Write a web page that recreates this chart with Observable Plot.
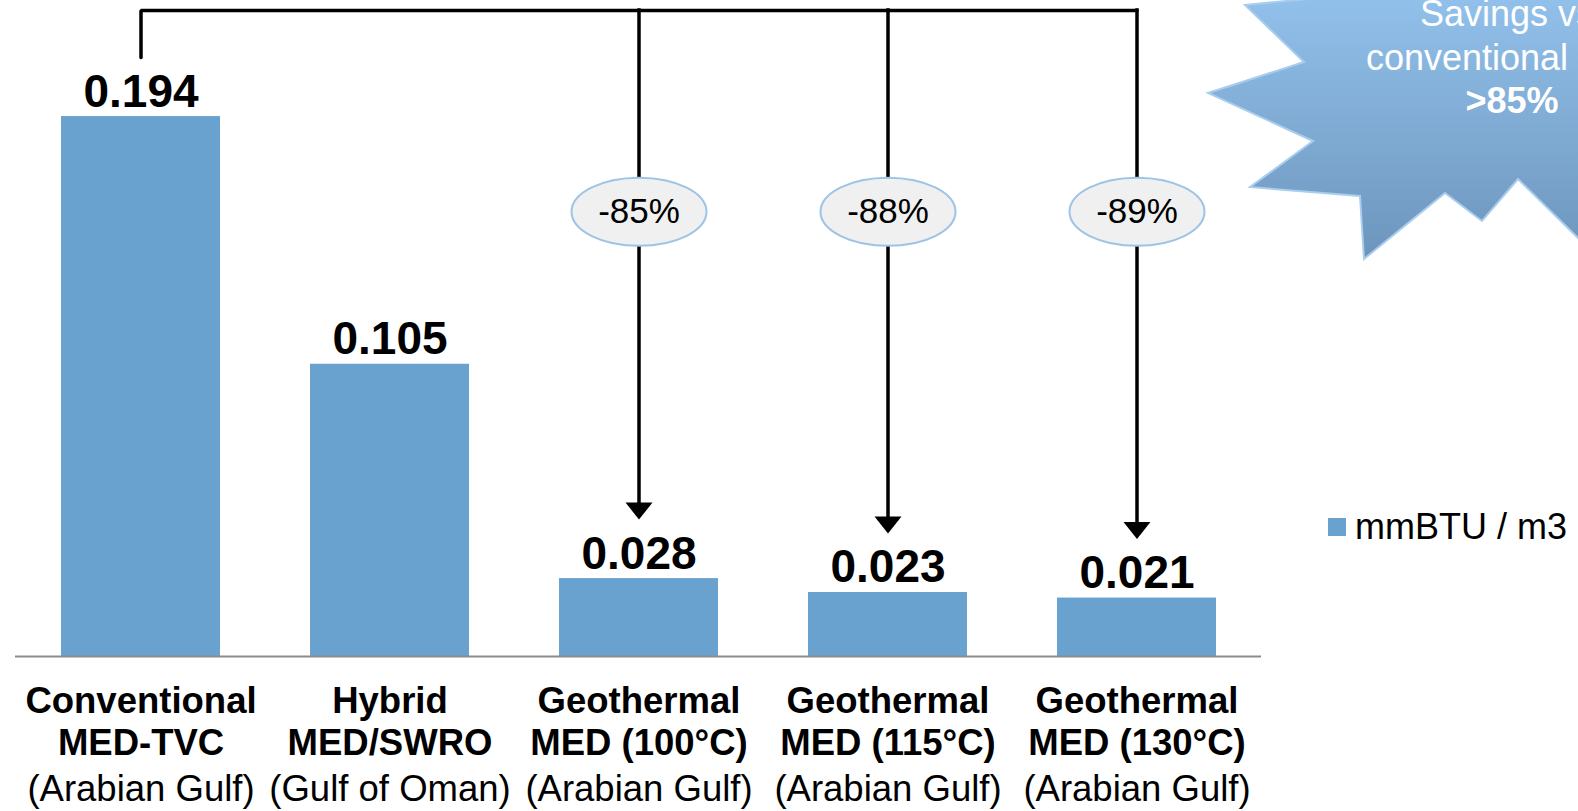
<!DOCTYPE html>
<html>
<head>
<meta charset="utf-8">
<script src="https://cdn.jsdelivr.net/npm/d3@7"></script>
<script src="https://cdn.jsdelivr.net/npm/@observablehq/plot@0.6"></script>
<style>
  html, body { margin: 0; padding: 0; background: #fff; }
  #chart { position: relative; width: 1578px; height: 811px; overflow: hidden; }
  #legend { position: absolute; left: 1328px; top: 506px; width: 400px; white-space: nowrap; }
  #legend div, #legend span { white-space: nowrap; }
  #legend svg { margin-right: 9px !important; }
</style>
</head>
<body>
<div id="chart"><div id="legend"></div></div>
<script>
// Specific thermal energy of each desalination option
const techNames = ["Conventional", "Hybrid", "Geothermal", "Geothermal", "Geothermal"];
const techDetail = ["MED-TVC", "MED/SWRO", "MED (100°C)", "MED (115°C)", "MED (130°C)"];
const regions = ["(Arabian Gulf)", "(Gulf of Oman)", "(Arabian Gulf)", "(Arabian Gulf)", "(Arabian Gulf)"];
const values = [0.194, 0.105, 0.028, 0.023, 0.021];
const seriesName = "mmBTU / m3";

// Savings of the three geothermal plants against the conventional plant
const savings = ["-85%", "-88%", "-89%"];

// Callout text
const calloutLines = ["Savings vs.", "conventional MED", ">85%"];

const FONT = "'Liberation Sans', Arial, Helvetica, sans-serif";
const barFill = "#6aa2cf";

const keys = techNames.map((n, i) => `${n}\n${techDetail[i]}`);
const rows = keys.map((key, i) => ({key, value: values[i], region: regions[i]}));
const savingsRows = savings.map((label, i) => ({key: keys[i + 2], label, value: values[i + 2]}));

// Annotation levels, in mmBTU / m3
const yMax = 0.2357;
const bracketTop = 0.2321;
const bracketStart = 0.2152;
const badgeLevel = 0.1598;
const arrowGap = 0.0212;

// Oval badge symbol (twice as wide as tall)
const ellipse = {
  draw(ctx, size) {
    const r = Math.sqrt(size / Math.PI), rx = r * 1.985, ry = r, k = 0.5523;
    ctx.moveTo(rx, 0);
    ctx.bezierCurveTo(rx, ry * k, rx * k, ry, 0, ry);
    ctx.bezierCurveTo(-rx * k, ry, -rx, ry * k, -rx, 0);
    ctx.bezierCurveTo(-rx, -ry * k, -rx * k, -ry, 0, -ry);
    ctx.bezierCurveTo(rx * k, -ry, rx, -ry * k, rx, 0);
    ctx.closePath();
  }
};
// Filled arrow head, tip at the anchor point
const arrowHead = {
  draw(ctx) {
    ctx.moveTo(-13.5, -17);
    ctx.lineTo(13.5, -17);
    ctx.lineTo(0, 0);
    ctx.closePath();
  }
};

const chart = Plot.plot({
  width: 1578,
  height: 811,
  marginTop: 0,
  marginBottom: 155,
  marginLeft: 15,
  marginRight: 317,
  style: {fontFamily: FONT, background: "#fff", color: "#000", overflow: "hidden"},
  x: {type: "band", domain: keys, paddingInner: 0.362, paddingOuter: 0.181, axis: null},
  y: {domain: [0, yMax], axis: null},
  marks: [
    Plot.barY(rows, {x: "key", y: "value", fill: barFill}),
    Plot.ruleY([0], {stroke: "#8c8c8c", strokeWidth: 2}),
    Plot.text(rows, {x: "key", y: "value", text: d => d.value.toFixed(3), dy: -10, lineAnchor: "bottom", fontSize: 46, fontWeight: "bold", fill: "#000"}),
    // category labels
    Plot.text(rows, {x: "key", y: () => 0, text: "key", lineAnchor: "top", dy: 26, lineHeight: 1.16, fontSize: 36.5, fontWeight: "bold", fill: "#000"}),
    Plot.text(rows, {x: "key", y: () => 0, text: "region", lineAnchor: "bottom", dy: 144, fontSize: 36.5, fill: "#000"}),
    // bracket from the conventional plant to the geothermal plants
    Plot.line([
      {key: keys[0], y: bracketStart},
      {key: keys[0], y: bracketTop},
      {key: keys[4], y: bracketTop}
    ], {x: "key", y: "y", stroke: "#000", strokeWidth: 3.5, strokeLinejoin: "miter"}),
    Plot.ruleX(savingsRows, {x: "key", y1: () => bracketTop, y2: d => d.value + arrowGap + 0.004, stroke: "#000", strokeWidth: 3.5, strokeLinecap: "square"}),
    Plot.dot(savingsRows, {x: "key", y: d => d.value + arrowGap, symbol: arrowHead, r: 5, fill: "#000", stroke: "none"}),
    Plot.dot(savingsRows, {x: "key", y: () => badgeLevel, symbol: ellipse, r: 34, fill: "#f0f0f0", stroke: "#9dc3e6", strokeWidth: 2}),
    Plot.text(savingsRows, {x: "key", y: () => badgeLevel, text: "label", fontSize: 35, fill: "#000"})
  ]
});

// Star-shaped callout in the upper right corner
const burstOutline = [
  [1245, 5], [1304, 62], [1208, 93], [1313, 141], [1250, 187], [1360, 196],
  [1364, 259], [1445, 193], [1482, 221], [1518, 179], [1578, 238], [1640, 280],
  [1700, 120], [1680, -40], [1420, -12]
];
const svg = d3.select(chart);
const grad = svg.append("defs").append("linearGradient")
  .attr("id", "burst-fill").attr("gradientUnits", "userSpaceOnUse")
  .attr("x1", 0).attr("y1", 0).attr("x2", 0).attr("y2", 260);
grad.append("stop").attr("offset", 0).attr("stop-color", "#91c0ea");
grad.append("stop").attr("offset", 1).attr("stop-color", "#6d95bc");
svg.append("path")
  .attr("d", d3.line()(burstOutline) + "Z")
  .attr("fill", "url(#burst-fill)")
  .attr("stroke", "#a8cdee")
  .attr("stroke-width", 2)
  .attr("stroke-linejoin", "miter");
const burstText = svg.append("text")
  .attr("fill", "#fff").attr("font-size", 36).attr("text-anchor", "middle");
calloutLines.forEach((t, i) => {
  burstText.append("tspan")
    .attr("x", 1512).attr("y", 26 + i * 43.5)
    .attr("font-weight", i === 2 ? "bold" : null)
    .text(t);
});

const holder = document.getElementById("chart");
holder.insertBefore(chart, holder.firstChild);

const legend = Plot.legend({
  color: {type: "categorical", domain: [seriesName], range: [barFill]},
  swatchSize: 18,
  style: {fontSize: "36px", fontFamily: FONT, color: "#000", marginLeft: "0px", whiteSpace: "nowrap"}
});
document.getElementById("legend").appendChild(legend);
</script>
</body>
</html>
